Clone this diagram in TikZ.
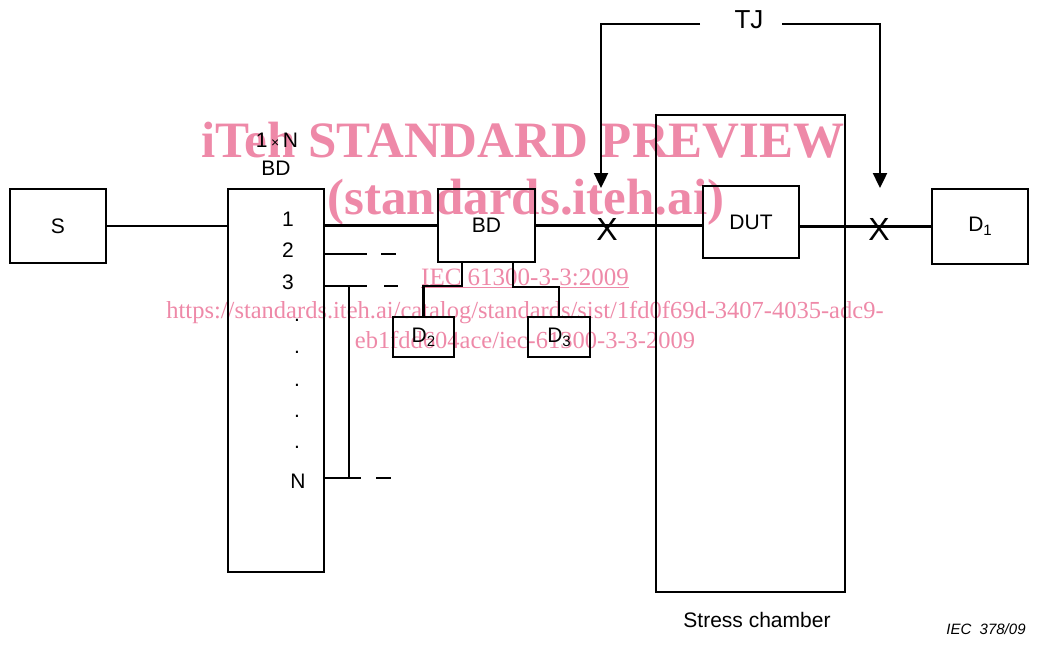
\documentclass[tikz,border=0pt]{standalone}
\usepackage{fontspec}
\setmainfont{Liberation Sans}
\newfontfamily\wmfont{Liberation Serif}
\usetikzlibrary{arrows.meta}
\definecolor{wmpink}{RGB}{238,137,168}
\newcommand{\lowsub}[1]{\raisebox{-4pt}{\fontsize{15}{15}\selectfont #1}}

\begin{document}
\begin{tikzpicture}[x=1pt, y=-1pt, line width=2.4pt, >={Triangle[width=14pt,length=15pt]},
    box/.style={draw, line width=2.4pt, inner sep=0pt, font=\fontsize{21}{25}\selectfont},
    txt/.style={inner sep=0pt, font=\fontsize{21}{25}\selectfont},
    wm/.style={text=wmpink, inner sep=0pt, anchor=base}]

    \useasboundingbox (0,0) rectangle (1037,646);

    % Watermark
    \node[wm, font=\wmfont\bfseries\fontsize{51}{51}\selectfont] (wm1) at (523,157) {iTeh STANDARD PREVIEW};
    \node[wm, font=\wmfont\bfseries\fontsize{51}{51}\selectfont] (wm2) at (526,214) {(standards.iteh.ai)};
    \node[wm, font=\wmfont\fontsize{25}{25}\selectfont] (wm3) at (525,285) {\underline{IEC 61300-3-3:2009}};
    \node[wm, font=\wmfont\fontsize{24.5}{25}\selectfont] (wm4) at (525,318) {https://standards.iteh.ai/catalog/standards/sist/1fd0f69d-3407-4035-adc9-};
    \node[wm, font=\wmfont\fontsize{24.5}{25}\selectfont] (wm5) at (525,348) {eb1fdd604ace/iec-61300-3-3-2009};

    % Node definitions
    \node[box, minimum width=96, minimum height=74] (s) at (58,226) {S};
    \node[box, minimum width=96, minimum height=383] (split) at (276,380.5) {};
    \node[txt] (splitn) at (277,140) {1\,{\fontsize{14}{14}\selectfont ×}\,N};
    \node[txt] (splitbd) at (276,168) {BD};
    \node[box, minimum width=97, minimum height=73] (bd) at (486.5,225.5) {BD};
    \node[box, minimum width=61, minimum height=40] (d2) at (423.5,337) {D\lowsub{2}};
    \node[box, minimum width=62, minimum height=40] (d3) at (559,337) {D\lowsub{3}};
    \node[box, minimum width=189, minimum height=477] (chamber) at (750.5,353.5) {};
    \node[box, minimum width=96, minimum height=72] (dut) at (751,222) {DUT};
    \node[box, minimum width=96, minimum height=75] (d1) at (980,226.5) {D\lowsub{1}};
    \node[txt] (chlbl) at (757,620) {Stress chamber};
    \node[txt, font=\fontsize{15}{18}\selectfont\itshape] (fig) at (986,629) {IEC\ \ 378/09};

    % Port numbers
    \node[txt] (n1) at (288,219) {1};
    \node[txt] (n2) at (288,250) {2};
    \node[txt] (n3) at (288,282) {3};
    \node[txt] (nn) at (298,481) {N};
    \foreach \y in {320,352,385,416,447}
        \node[txt] at (297,\y) {.};

    % Junctions
    \node[txt, font=\fontsize{32}{36}\selectfont] (xl) at (607,229) {X};
    \node[txt, font=\fontsize{32}{36}\selectfont] (xr) at (879,229) {X};
    \node[txt, font=\fontsize{26}{30}\selectfont] (tj) at (749,20) {TJ};
    \coordinate (tjl) at (700,24);
    \coordinate (tjr) at (782,24);
    \coordinate (al) at (601,188);
    \coordinate (ar) at (880,188);
    \coordinate (p2) at (split.east |- 0,254);
    \coordinate (p3) at (split.east |- 0,286);
    \coordinate (pn) at (split.east |- 0,478);

    % Edge definitions
    \draw (s.east) -- (s.east -| split.west);
    \draw (split.east |- bd.west) -- (bd.west);
    \draw[dash pattern=on 42pt off 14pt on 15pt off 50pt] (p2) -- ++(71,0);
    \draw[dash pattern=on 42pt off 17pt on 14pt off 50pt] (p3) -- ++(73,0);
    \draw[dash pattern=on 36pt off 15pt on 15pt off 50pt] (pn) -- ++(66,0);
    \draw ([xshift=24pt]p3) -- ([xshift=24pt]pn);
    \draw ([xshift=-24.5pt]bd.south) -- ++(0,23) -| (d2.north);
    \draw ([xshift=26.5pt]bd.south) -- ++(0,24) -| (d3.north);
    \draw (bd.east) -- (bd.east -| dut.west);
    \draw (dut.east |- d1.west) -- (d1.west);
    \draw[->] (tjl) -| (al);
    \draw[->] (tjr) -| (ar);
\end{tikzpicture}
\end{document}
